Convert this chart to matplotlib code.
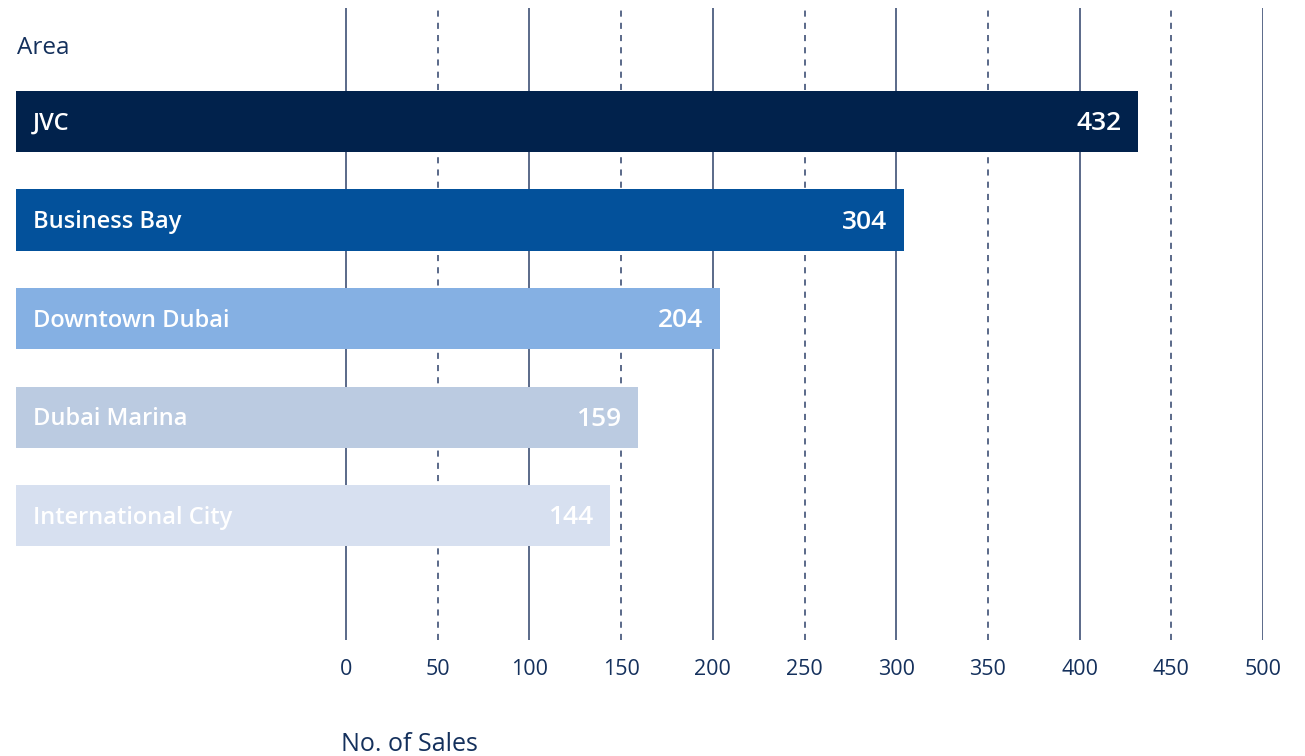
import numpy as np
import matplotlib.pyplot as plt

# Sales by area
areas = ["JVC", "Business Bay", "Downtown Dubai", "Dubai Marina", "International City"]
sales = [432, 304, 204, 159, 144]
bar_colors = ["#01224c", "#03519b", "#85b0e3", "#bbcbe1", "#d7e0f0"]
ticks = list(range(0, 501, 50))

plt.rcParams["font.family"] = ["Open Sans", "DejaVu Sans"]
navy = "#14305c"

fig = plt.figure(figsize=(13.05, 7.56), dpi=100)
ax = fig.add_axes([16 / 1305, 116 / 756, (1263 - 16) / 1305, 632 / 756])

# bars start at the left edge of the axes, well left of zero
x0 = -180
ax.set_xlim(x0, 500)
ax.set_ylim(5.26, -1.15)

y = np.arange(len(areas))
vals = np.array(sales)
ax.barh(y, vals - x0, left=x0, height=0.62, color=bar_colors, zorder=3)

for yi, name, v in zip(y, areas, sales):
    ax.annotate(name, (x0, yi), xytext=(12, -1.5), textcoords="offset points",
                ha="left", va="center", color="white", fontsize=17,
                fontweight="semibold", zorder=4)
    ax.annotate(str(v), (v, yi), xytext=(-12, -1.5), textcoords="offset points",
                ha="right", va="center", color="white", fontsize=19,
                fontweight="semibold", zorder=4)

# vertical grid: solid at hundreds, dashed at fifties
for t in ticks:
    ls = "-" if t % 100 == 0 else (0, (4, 4))
    ax.axvline(t, color="#2d416a", lw=1.1, ls=ls, zorder=1)

ax.set_xticks(ticks)
ax.set_xticklabels([str(t) for t in ticks])
ax.tick_params(axis="x", length=0, pad=14, labelsize=15.5, labelcolor=navy)
ax.set_yticks([])
for s in ax.spines.values():
    s.set_visible(False)

fig.text(17 / 1305, (756 - 54) / 756, "Area", ha="left", va="baseline",
         fontsize=17.5, color=navy)
fig.text(341 / 1305, 5 / 756, "No. of Sales", ha="left", va="baseline",
         fontsize=18, color=navy)

fig.savefig("out.png", dpi=100)
